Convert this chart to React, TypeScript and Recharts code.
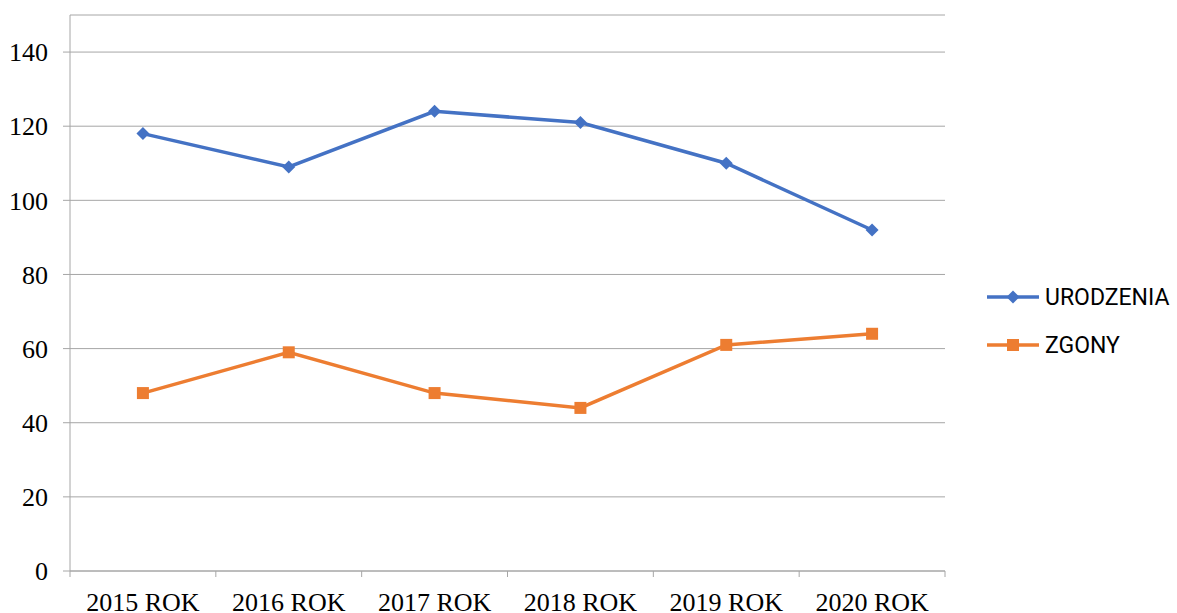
import React from "react";
import { LineChart, Line, XAxis, YAxis, CartesianGrid, Legend } from "recharts";

const years = ["2015 ROK", "2016 ROK", "2017 ROK", "2018 ROK", "2019 ROK", "2020 ROK"];
const urodzenia = [118, 109, 124, 121, 110, 92];
const zgony = [48, 59, 48, 44, 61, 64];
const yTicks = [0, 20, 40, 60, 80, 100, 120, 140];

const data = years.map((y, i) => ({ year: y, URODZENIA: urodzenia[i], ZGONY: zgony[i] }));

const BLUE = "#4472C4";
const ORANGE = "#ED7D31";
const GRID = "#A6A6A6";
const SERIF = "'Liberation Serif', 'Times New Roman', serif";

const Diamond = (props: any) => {
  const { cx, cy } = props;
  if (cx == null || cy == null) return null;
  const r = 6.5;
  return <path d={`M${cx},${cy - r}L${cx + r},${cy}L${cx},${cy + r}L${cx - r},${cy}Z`} fill={BLUE} />;
};

const Square = (props: any) => {
  const { cx, cy } = props;
  if (cx == null || cy == null) return null;
  const r = 6;
  return <rect x={cx - r} y={cy - r} width={2 * r} height={2 * r} fill={ORANGE} />;
};

const XTick = (props: any) => {
  const { x, y, payload, index, visibleTicksCount } = props;
  const off = payload.offset || 0;
  return (
    <g>
      <line x1={x - off} x2={x - off} y1={y} y2={y + 6} stroke={GRID} strokeWidth={1} />
      {index === visibleTicksCount - 1 && (
        <line x1={x + off} x2={x + off} y1={y} y2={y + 6} stroke={GRID} strokeWidth={1} />
      )}
      <text x={x} y={y + 22} dy="0.71em" textAnchor="middle" fill="#000" fontSize={26} fontFamily={SERIF}>
        {payload.value}
      </text>
    </g>
  );
};

const renderLegend = () => {
  const items = [
    { name: "URODZENIA", color: BLUE, shape: "diamond" },
    { name: "ZGONY", color: ORANGE, shape: "square" },
  ];
  return (
    <div style={{ width: 192 }}>
      {items.map((it) => (
        <div key={it.name} style={{ display: "flex", alignItems: "center", height: 48 }}>
          <svg width={56} height={20} style={{ display: "block" }}>
            <line x1={2} x2={54} y1={10} y2={10} stroke={it.color} strokeWidth={3.5} />
            {it.shape === "diamond" ? (
              <path d="M28,3.5L34.5,10L28,16.5L21.5,10Z" fill={it.color} />
            ) : (
              <rect x={22} y={4} width={12} height={12} fill={it.color} />
            )}
          </svg>
          <span
            style={{
              fontFamily: "Roboto, 'Liberation Sans', sans-serif",
              fontSize: 23,
              color: "#000",
              marginLeft: 4,
            }}
          >
            {it.name}
          </span>
        </div>
      ))}
    </div>
  );
};

export default function App() {
  return (
    <div style={{ position: "absolute", left: 0, top: 0, background: "#fff" }}>
      <LineChart width={1177} height={613} data={data} margin={{ top: 15, right: 40, left: 0, bottom: 0 }}>
        <CartesianGrid vertical={false} stroke={GRID} strokeWidth={1} />
        <XAxis
          dataKey="year"
          scale="band"
          axisLine={{ stroke: GRID, strokeWidth: 1 }}
          tickLine={false}
          tickSize={0}
          tickMargin={0}
          height={42}
          interval={0}
          tick={<XTick />}
        />
        <YAxis
          domain={[0, 150]}
          ticks={yTicks}
          width={70}
          axisLine={{ stroke: GRID, strokeWidth: 1 }}
          tickLine={{ stroke: GRID, strokeWidth: 1 }}
          tickSize={7}
          tickMargin={15}
          tick={{ fill: "#000", fontSize: 26, fontFamily: SERIF }}
          interval={0}
        />
        <Legend
          content={renderLegend}
          layout="vertical"
          align="right"
          verticalAlign="top"
          width={192}
          wrapperStyle={{ left: 985, top: 273, width: 192 }}
        />
        <Line
          type="linear"
          dataKey="URODZENIA"
          stroke={BLUE}
          strokeWidth={3.5}
          dot={<Diamond />}
          activeDot={false}
          isAnimationActive={false}
        />
        <Line
          type="linear"
          dataKey="ZGONY"
          stroke={ORANGE}
          strokeWidth={3.5}
          dot={<Square />}
          activeDot={false}
          isAnimationActive={false}
        />
      </LineChart>
    </div>
  );
}
